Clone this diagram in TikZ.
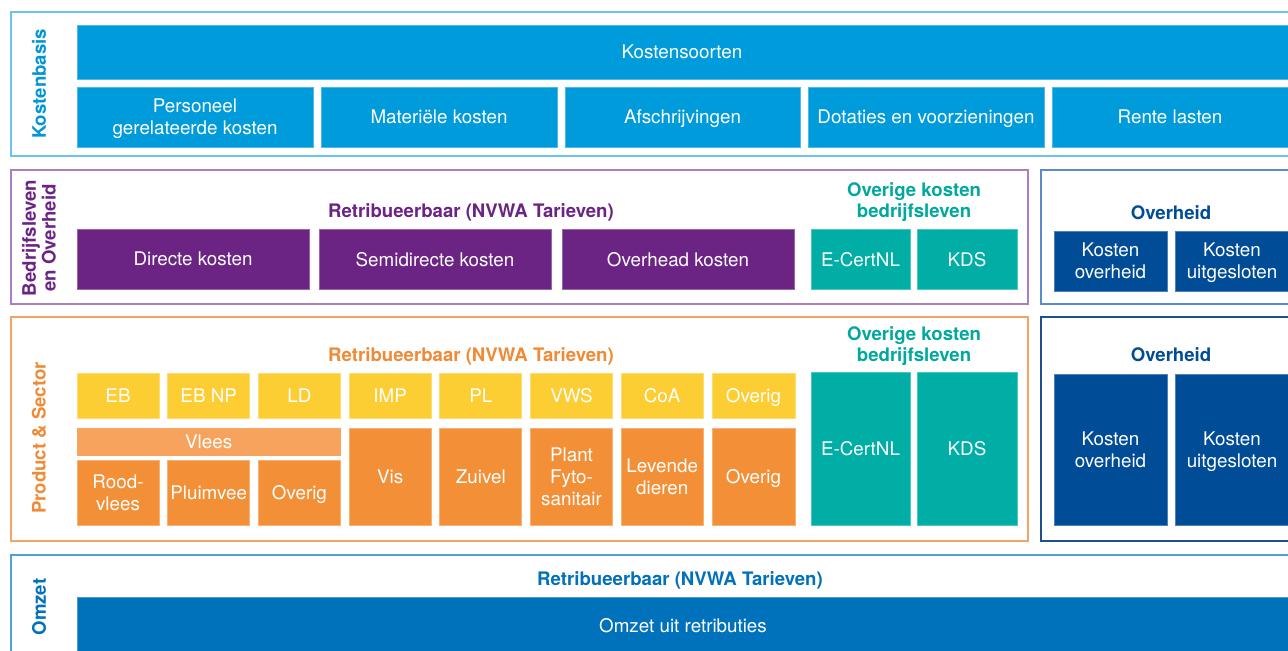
\documentclass[tikz,border=0pt]{standalone}
\usepackage{fontspec}
\setmainfont{TeX Gyre Heros}
\definecolor{kbBlue}{HTML}{009BDB}
\definecolor{kbLine}{HTML}{6CC4EC}
\definecolor{kbText}{HTML}{0096D6}
\definecolor{purp}{HTML}{6C2484}
\definecolor{purpLine}{HTML}{A97FC4}
\definecolor{teal}{HTML}{00AEA6}
\definecolor{tealText}{HTML}{00A99D}
\definecolor{ovBlue}{HTML}{004C97}
\definecolor{ovLineA}{HTML}{5A8CCC}
\definecolor{ovLineB}{HTML}{1F4F8F}
\definecolor{orng}{HTML}{F39037}
\definecolor{orngLight}{HTML}{F7A35E}
\definecolor{orngText}{HTML}{F08A35}
\definecolor{orngLine}{HTML}{F4A266}
\definecolor{yell}{HTML}{FDCD34}
\definecolor{omBlue}{HTML}{0071BB}
\definecolor{omLine}{HTML}{4BA3DC}
\newcommand\bx[7]{\node[#6, minimum width={(#4-#2)*0.02cm}, minimum height={(#5-#3)*0.02cm}] (#1) at ({(#2+#4)/2},{(#3+#5)/2}) {#7};}
\begin{document}
\begin{tikzpicture}[x=0.02cm,y=-0.02cm,
  boxtxt/.style={inner sep=0pt, outer sep=0pt, text=white, align=center, text depth=0pt, font=\fontsize{10.7}{12.4}\selectfont},
  kbbox/.style={boxtxt, fill=kbBlue, draw=kbBlue!70!white, line width=0.4pt},
  pubox/.style={boxtxt, fill=purp, draw=purp!70!white, line width=0.4pt},
  tebox/.style={boxtxt, fill=teal, draw=teal!70!white, line width=0.4pt},
  ovbox/.style={boxtxt, fill=ovBlue, draw=ovBlue!70!white, line width=0.4pt},
  yebox/.style={boxtxt, fill=yell, draw=yell!70!white, line width=0.4pt},
  orbox/.style={boxtxt, fill=orng, draw=orng!70!white, line width=0.4pt},
  olbox/.style={boxtxt, fill=orngLight, draw=orng!80!white, line width=0.4pt},
  ombox/.style={boxtxt, fill=omBlue, draw=omBlue!70!white, line width=0.4pt},
  frame/.style={inner sep=0pt, outer sep=0pt, line width=0.85pt},
  head/.style={inner sep=0pt, align=center, text depth=0pt, font=\fontsize{10.6}{12.4}\selectfont\bfseries},
  side/.style={inner sep=0pt, align=center, rotate=90, font=\fontsize{10.6}{11.2}\selectfont\bfseries}
]
\clip (0,0) rectangle (1288,651);
\fill[white] (0,0) rectangle (1288,651);
% frames
\bx{fK}{11}{12}{1300}{156}{frame, draw=kbLine}{}
\bx{fB}{11}{170}{1028}{304}{frame, draw=purpLine}{}
\bx{fO1}{1041}{170}{1300}{304}{frame, draw=ovLineA}{}
\bx{fP}{11}{317}{1028}{541}{frame, draw=orngLine}{}
\bx{fO2}{1041}{317}{1300}{541}{frame, draw=ovLineB}{}
\bx{fM}{11}{555}{1300}{700}{frame, draw=omLine}{}
% side labels
\node[side, text=kbText] (sK) at (39,84) {Kostenbasis};
\node[side, text=purp] (sB) at (39,238) {Bedrijfsleven\\en Overheid};
\node[side, text=orngText] (sP) at (39,438) {Product \& Sector};
\node[side, text=omBlue] (sM) at (39,607) {Omzet};
% Kostenbasis
\bx{ks}{77}{25}{1300}{79}{kbbox}{}
\node[boxtxt] (kst) at (682,52) {Kostensoorten};
\bx{k1}{77}{87}{313}{147}{kbbox}{Personeel\\gerelateerde kosten}
\bx{k2}{321}{87}{557}{147}{kbbox}{Materiële kosten}
\bx{k3}{565}{87}{800}{147}{kbbox}{Afschrijvingen}
\bx{k4}{808}{87}{1044}{147}{kbbox}{Dotaties en voorzieningen}
\bx{k5}{1052}{87}{1300}{147}{kbbox}{}
\node[boxtxt] (k5t) at (1170,117) {Rente lasten};
% Bedrijfsleven en Overheid
\node[head, text=purp] (hB) at (471,211) {Retribueerbaar (NVWA Tarieven)};
\bx{b1}{77}{229}{309}{289}{pubox}{Directe kosten}
\bx{b2}{319}{229}{551}{289}{pubox}{Semidirecte kosten}
\bx{b3}{562}{229}{794}{289}{pubox}{Overhead kosten}
\node[head, text=tealText] (hBt) at (914,200) {Overige kosten\\bedrijfsleven};
\bx{b4}{811}{229}{910}{289}{tebox}{E-CertNL}
\bx{b5}{917}{229}{1017}{289}{tebox}{KDS}
\node[head, text=ovBlue] (hO1) at (1171,213) {Overheid};
\bx{o1}{1054}{231}{1167}{291}{ovbox}{Kosten\\overheid}
\bx{o2}{1175}{231}{1300}{291}{ovbox}{}
\node[boxtxt] (o2t) at (1232,261) {Kosten\\uitgesloten};
% Product & Sector
\node[head, text=orngText] (hP) at (471,355) {Retribueerbaar (NVWA Tarieven)};
\bx{y1}{77}{373}{159}{418}{yebox}{EB}
\bx{y2}{167.7}{373}{249.7}{418}{yebox}{EB NP}
\bx{y3}{258.4}{373}{340.4}{418}{yebox}{LD}
\bx{y4}{349.1}{373}{431.1}{418}{yebox}{IMP}
\bx{y5}{439.8}{373}{521.8}{418}{yebox}{PL}
\bx{y6}{530.5}{373}{612.5}{418}{yebox}{VWS}
\bx{y7}{621.2}{373}{703.2}{418}{yebox}{CoA}
\bx{y8}{711.9}{373}{795}{418}{yebox}{Overig}
\bx{vl}{77}{428}{340.4}{455}{olbox}{Vlees}
\bx{p1}{77}{460}{159}{525}{orbox}{Rood-\\vlees}
\bx{p2}{167.7}{460}{249.7}{525}{orbox}{Pluimvee}
\bx{p3}{258.4}{460}{340.4}{525}{orbox}{Overig}
\bx{p4}{349.1}{428}{431.1}{525}{orbox}{Vis}
\bx{p5}{439.8}{428}{521.8}{525}{orbox}{Zuivel}
\bx{p6}{530.5}{428}{612.5}{525}{orbox}{Plant\\Fyto-\\sanitair}
\bx{p7}{621.2}{428}{703.2}{525}{orbox}{Levende\\dieren}
\bx{p8}{711.9}{428}{795}{525}{orbox}{Overig}
\node[head, text=tealText] (hPt) at (914,344) {Overige kosten\\bedrijfsleven};
\bx{t1}{811}{372}{910}{525}{tebox}{E-CertNL}
\bx{t2}{917}{372}{1017}{525}{tebox}{KDS}
\node[head, text=ovBlue] (hO2) at (1171,355) {Overheid};
\bx{o3}{1054}{374}{1167}{525}{ovbox}{Kosten\\overheid}
\bx{o4}{1175}{374}{1300}{525}{ovbox}{}
\node[boxtxt] (o4t) at (1232,450) {Kosten\\uitgesloten};
% Omzet
\node[head, text=omBlue] (hM) at (680,579) {Retribueerbaar (NVWA Tarieven)};
\bx{m1}{77}{597}{1300}{700}{ombox}{}
\node[boxtxt] (m1t) at (683,625) {Omzet uit retributies};
\end{tikzpicture}
\end{document}
